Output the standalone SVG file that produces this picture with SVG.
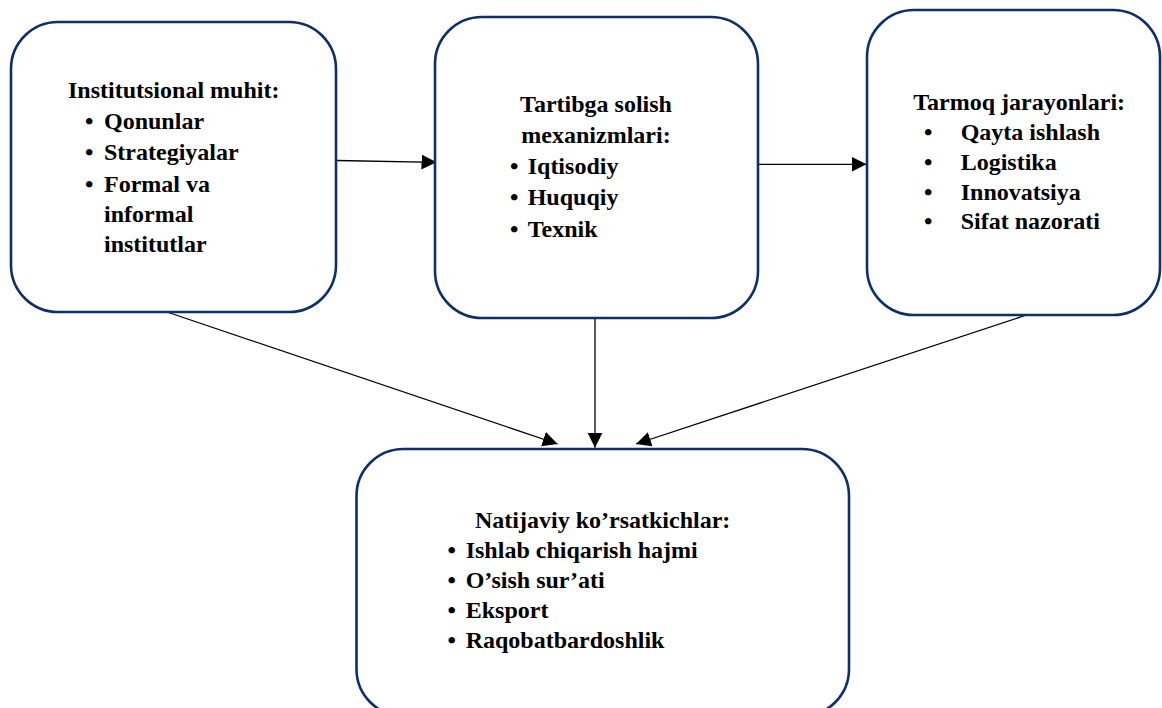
<svg xmlns="http://www.w3.org/2000/svg" width="1162" height="708" viewBox="0 0 1162 708">
<style>
.box{fill:#ffffff;stroke:#0f2f6b;stroke-width:2.6}
.t{font-family:"Liberation Serif","Times New Roman",serif;font-weight:bold;font-size:24px;fill:#000}
.c{text-anchor:middle}
.ln{stroke:#000;stroke-width:1.3;fill:none;marker-end:url(#ah)}
</style>
<defs>
<marker id="ah" markerUnits="userSpaceOnUse" markerWidth="16" markerHeight="16" refX="15" refY="7.5" orient="auto">
<path d="M0,0 L15,7.5 L0,15 z" fill="#000"/>
</marker>
</defs>
<rect width="1162" height="708" fill="#ffffff"/>
<g id="connectors">
<line class="ln" x1="337" y1="160.5" x2="436.5" y2="162.3"/>
<line class="ln" x1="758" y1="164.3" x2="866.5" y2="164.3"/>
<line class="ln" x1="167" y1="312" x2="557.7" y2="444"/>
<line class="ln" x1="595" y1="318" x2="595" y2="447.7"/>
<line class="ln" x1="1025" y1="315.5" x2="636" y2="444"/>
</g>
<g id="node-institutsional">
<rect class="box" x="11" y="22" width="325" height="290" rx="47"/>
<text class="t" x="68" y="98">Institutsional muhit:</text>
<text class="t" x="85" y="129">•</text><text class="t" x="104" y="129">Qonunlar</text>
<text class="t" x="85" y="160">•</text><text class="t" x="104" y="160">Strategiyalar</text>
<text class="t" x="85" y="191.5">•</text><text class="t" x="104" y="191.5">Formal va</text>
<text class="t" x="104" y="222">informal</text>
<text class="t" x="104" y="252">institutlar</text>
</g>
<g id="node-tartibga">
<rect class="box" x="435" y="17" width="323" height="301" rx="47"/>
<text class="t c" x="596" y="112">Tartibga solish</text>
<text class="t c" x="596" y="143">mexanizmlari:</text>
<text class="t" x="510" y="174">•</text><text class="t" x="527.7" y="174">Iqtisodiy</text>
<text class="t" x="510" y="205">•</text><text class="t" x="527.7" y="205">Huquqiy</text>
<text class="t" x="510" y="236.5">•</text><text class="t" x="527.7" y="236.5">Texnik</text>
</g>
<g id="node-tarmoq">
<rect class="box" x="867" y="10" width="293" height="305" rx="47"/>
<text class="t" x="913.3" y="110">Tarmoq jarayonlari:</text>
<text class="t" x="924" y="140">•</text><text class="t" x="960.7" y="140">Qayta ishlash</text>
<text class="t" x="924" y="170">•</text><text class="t" x="960.7" y="170">Logistika</text>
<text class="t" x="924" y="199.5">•</text><text class="t" x="960.7" y="199.5">Innovatsiya</text>
<text class="t" x="924" y="229">•</text><text class="t" x="960.7" y="229">Sifat nazorati</text>
</g>
<g id="node-natijaviy">
<rect class="box" x="356.5" y="449" width="492.5" height="267" rx="47"/>
<text class="t" x="475" y="527.5">Natijaviy ko’rsatkichlar:</text>
<text class="t" x="447.5" y="557.5">•</text><text class="t" x="465.7" y="557.5">Ishlab chiqarish hajmi</text>
<text class="t" x="447.5" y="587.5">•</text><text class="t" x="465.7" y="587.5">O’sish sur’ati</text>
<text class="t" x="447.5" y="617.5">•</text><text class="t" x="465.7" y="617.5">Eksport</text>
<text class="t" x="447.5" y="647.5">•</text><text class="t" x="465.7" y="647.5">Raqobatbardoshlik</text>
</g>
</svg>
